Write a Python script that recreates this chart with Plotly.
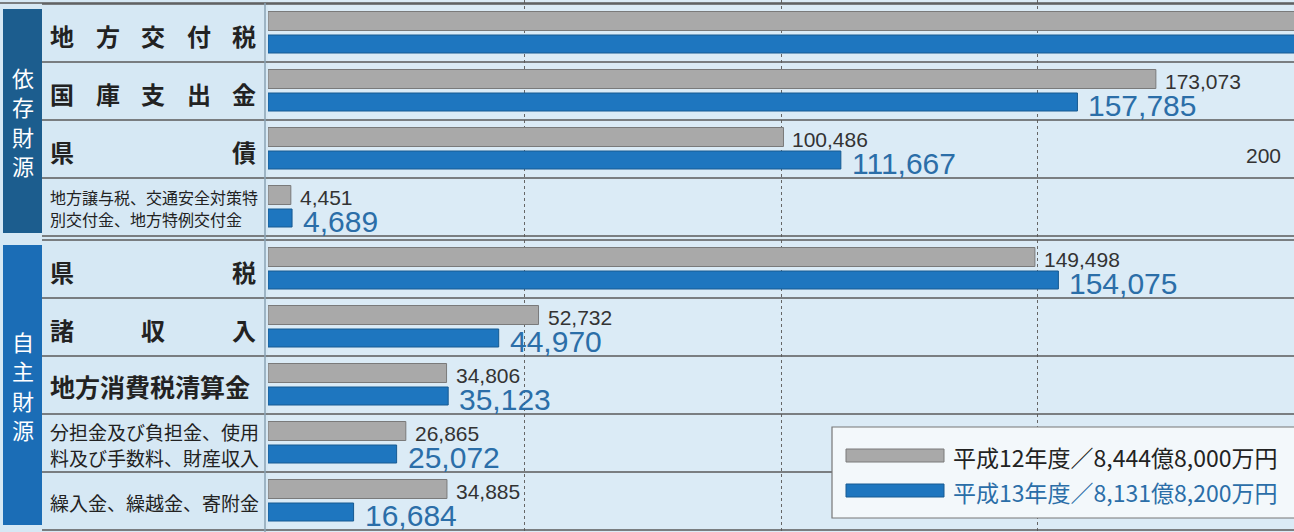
import plotly.graph_objects as go

# ---------------- data ----------------
group_names = ["依存財源", "自主財源"]
group_sizes = [4, 5]
categories = [
    "地方交付税",
    "国庫支出金",
    "県債",
    "地方譲与税、交通安全対策特別交付金、地方特例交付金",
    "県税",
    "諸収入",
    "地方消費税清算金",
    "分担金及び負担金、使用料及び手数料、財産収入",
    "繰入金、繰越金、寄附金",
]
label_lines = [
    ["地方交付税"],
    ["国庫支出金"],
    ["県債"],
    ["地方譲与税、交通安全対策特", "別交付金、地方特例交付金"],
    ["県税"],
    ["諸収入"],
    ["地方消費税清算金"],
    ["分担金及び負担金、使用", "料及び手数料、財産収入"],
    ["繰入金、繰越金、寄附金"],
]
h12 = [267684, 173073, 100486, 4451, 149498, 52732, 34806, 26865, 34885]
h13 = [263117, 157785, 111667, 4689, 154075, 44970, 35123, 25072, 16684]
legend_names = ["平成12年度／8,444億8,000万円", "平成13年度／8,131億8,200万円"]
x_max = 200000
grid_ticks = [50000, 100000, 150000]

# ---------------- layout helpers ----------------
W, H = 1294, 532
PLOT_LEFT = 268
group_tops = [4, 240]
ROW_H = 58

GRAY = "#a9a9a9"
GRAY_LINE = "#7a7a7a"
BLUE = "#1e76bf"
BLUE_LINE = "#165a92"
BLUE_TEXT = "#2b6ea8"
DARK = "#222222"
LINE = "#5a5a5a"
BG = "#d6e8f4"


def px(x):
    return x / W


row_centers = []
for g, top in enumerate(group_tops):
    for i in range(group_sizes[g]):
        row_centers.append(top + ROW_H * (i + 0.5))

fig = go.Figure()
fig.add_trace(go.Bar(
    y=row_centers, x=h12, orientation="h", name=legend_names[0],
    offset=-21.5, width=19,
    marker=dict(color=GRAY, line=dict(color=GRAY_LINE, width=1)),
    showlegend=False, hoverinfo="x",
))
fig.add_trace(go.Bar(
    y=row_centers, x=h13, orientation="h", name=legend_names[1],
    offset=2, width=18,
    marker=dict(color=BLUE, line=dict(color=BLUE_LINE, width=1)),
    showlegend=False, hoverinfo="x",
))

annotations = []
shapes = []

# value labels
for yc, v12, v13 in zip(row_centers, h12, h13):
    if v12 <= x_max:
        annotations.append(dict(
            x=v12, y=yc - 10, xref="x", yref="y", text=f"{v12:,}",
            xanchor="left", yanchor="middle", xshift=7, showarrow=False,
            font=dict(family="Liberation Sans, Arial", size=21, color="#333333"),
        ))
    if v13 <= x_max:
        annotations.append(dict(
            x=v13, y=yc + 14, xref="x", yref="y", text=f"{v13:,}",
            xanchor="left", yanchor="middle", xshift=9, showarrow=False,
            font=dict(family="Liberation Sans, Arial", size=30, color=BLUE_TEXT),
        ))

# partial axis label at right edge
annotations.append(dict(
    x=1, y=155, xref="paper", yref="y", text="200", xanchor="right",
    yanchor="middle", xshift=-11, showarrow=False,
    font=dict(family="Liberation Sans, Arial", size=21, color="#333333"),
))

# category labels
JP = "Noto Sans CJK JP"
L, R = 50, 256
for yc, lines in zip(row_centers, label_lines):
    if len(lines) == 1 and len(lines[0]) <= 5:
        chars = lines[0]
        fs = 24
        n = len(chars)
        for k, ch in enumerate(chars):
            cx = L + fs / 2 + (R - L - fs) * k / (n - 1)
            annotations.append(dict(
                x=px(cx), y=yc + 2, xref="paper", yref="y", text=f"<b>{ch}</b>",
                xanchor="center", yanchor="middle", showarrow=False,
                font=dict(family=JP, size=fs, color=DARK),
            ))
    elif len(lines) == 1:
        fs = 25 if len(lines[0]) <= 8 else 19
        annotations.append(dict(
            x=px(48), y=yc + 1, xref="paper", yref="y",
            text=f"<b>{lines[0]}</b>" if fs == 25 else lines[0],
            xanchor="left", yanchor="middle", showarrow=False,
            font=dict(family=JP, size=fs, color=DARK),
        ))
    else:
        fs = 16 if len(lines[0]) > 11 else 19
        gap = 11 if fs == 16 else 13
        for k, ln in enumerate(lines):
            annotations.append(dict(
                x=px(48), y=yc + (gap if k else -gap) + 1, xref="paper", yref="y",
                text=ln, xanchor="left", yanchor="middle", showarrow=False,
                font=dict(family=JP, size=fs, color=DARK),
            ))

# group boxes
box_colors = ["#1c5d8e", "#1b6db6"]
box_spans = [(9, 233), (245, 525)]
for name, (y0, y1), col in zip(group_names, box_spans, box_colors):
    shapes.append(dict(type="rect", xref="paper", yref="y", x0=px(3), x1=px(42),
                       y0=y0, y1=y1, fillcolor=col, line=dict(width=0), layer="above"))
    mid = (y0 + y1) / 2
    for k, ch in enumerate(name):
        annotations.append(dict(
            x=px(22.5), y=mid + (k - 1.5) * 29.5, xref="paper", yref="y", text=ch,
            xanchor="center", yanchor="middle", showarrow=False,
            font=dict(family=JP, size=22, color="white"),
        ))

# row separators
sep_lines = [3]
for g, top in enumerate(group_tops):
    for i in range(group_sizes[g] + 1):
        sep_lines.append(top + ROW_H * i)
for yl in sep_lines:
    x0 = 0 if yl in (3,) else px(42)
    shapes.append(dict(type="line", xref="paper", yref="y", x0=x0, x1=1,
                       y0=yl, y1=yl, line=dict(color=LINE, width=1.5), layer="above"))
# vertical separator between label column and plot
shapes.append(dict(type="line", xref="paper", yref="y", x0=px(265), x1=px(265),
                   y0=3, y1=532, line=dict(color="#8aa3b5", width=1.5), layer="above"))

# legend box
shapes.append(dict(type="rect", xref="paper", yref="y", x0=px(832), x1=px(1300),
                   y0=427, y1=518, fillcolor="#f3f8fb", line=dict(color="#777777", width=1.2),
                   layer="above"))
leg_rows = [(449, 462, GRAY, GRAY_LINE, DARK), (484, 497, BLUE, BLUE_LINE, BLUE_TEXT)]
for name, (y0, y1, fc, lc, tc) in zip(legend_names, leg_rows):
    shapes.append(dict(type="rect", xref="paper", yref="y", x0=px(846), x1=px(944),
                       y0=y0, y1=y1, fillcolor=fc, line=dict(color=lc, width=1), layer="above"))
    annotations.append(dict(
        x=px(951), y=(y0 + y1) / 2 + 1, xref="paper", yref="y", text=name,
        xanchor="left", yanchor="middle", showarrow=False,
        font=dict(family=JP, size=23, color=tc),
    ))

fig.update_layout(
    width=W, height=H,
    margin=dict(l=0, r=0, t=0, b=0),
    paper_bgcolor=BG,
    plot_bgcolor="#dbebf6",
    barmode="overlay",
    xaxis=dict(domain=[px(PLOT_LEFT), 1], range=[0, x_max], tickvals=grid_ticks,
               showticklabels=False, showgrid=True, gridcolor="#666666",
               griddash="dot", gridwidth=1, zeroline=False, showline=False, fixedrange=True),
    yaxis=dict(domain=[0, 1], range=[H, 0], autorange=False, showticklabels=False,
               showgrid=False, zeroline=False, showline=False, fixedrange=True),
    annotations=annotations,
    shapes=shapes,
)

fig.write_html(
    "out.html",
    config={"displayModeBar": False},
    post_script="document.body.style.margin='0';document.body.style.overflow='hidden';",
)
